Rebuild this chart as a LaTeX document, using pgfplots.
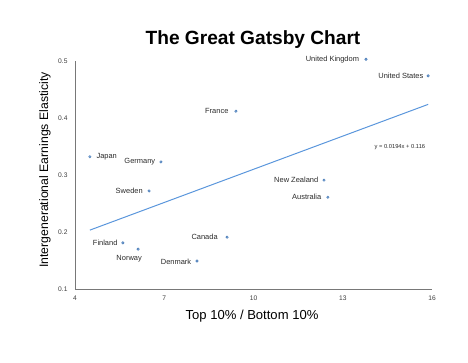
\documentclass[border=0pt]{standalone}
\usepackage{pgfplots}
\pgfplotsset{compat=1.18}
\usepackage{fontspec}
\setmainfont{Liberation Sans}
\definecolor{markblue}{RGB}{70,120,180}
\definecolor{markfill}{RGB}{140,180,225}
\definecolor{lineblue}{RGB}{90,150,220}
\definecolor{axisgray}{RGB}{120,120,120}
\definecolor{ticktext}{RGB}{60,60,60}
\begin{document}
\begin{tikzpicture}[x=1bp,y=1bp]
\useasboundingbox (0,0) rectangle (468,362);
\node[font=\bfseries\fontsize{19.2}{22}\selectfont] at (253,322) {The Great Gatsby Chart};
\node[rotate=90,font=\fontsize{12.3}{14}\selectfont] at (45,192) {Intergenerational Earnings Elasticity};
\node[font=\fontsize{13.1}{15}\selectfont] at (252,46) {Top 10\% / Bottom 10\%};
\begin{axis}[
  at={(75bp,73bp)}, anchor=south west,
  scale only axis, width=357bp, height=228bp,
  xmin=4, xmax=16, ymin=0.1, ymax=0.5,
  axis x line=bottom, axis y line=left,
  axis line style={-, axisgray, line width=0.8pt},
  xtick={4,7,10,13,16}, ytick={0.1,0.2,0.3,0.4,0.5},
  major tick length=0pt,
  tick label style={font=\fontsize{6.7}{7}\selectfont, text=ticktext},
  /pgf/number format/assume math mode=true,
  yticklabel style={/pgf/number format/fixed, /pgf/number format/precision=1, xshift=-4bp},
  xticklabel style={yshift=-3bp},
  clip=false,
]
\addplot[lineblue, line width=1pt] coordinates {(4.5,0.2033) (15.87,0.4239)};
\addplot[only marks, mark=*, mark size=1.25pt, mark options={draw=markblue, fill=markfill, line width=0.5pt}] coordinates {
(13.78,0.503) (15.87,0.474) (9.41,0.412) (4.50,0.332) (6.89,0.323) (6.49,0.272)
(12.37,0.291) (12.50,0.261) (9.11,0.191) (5.61,0.181) (6.12,0.170) (8.10,0.149)};
\begin{scope}[every node/.style={font=\fontsize{7.5}{9}\selectfont, inner sep=0.5pt, text=ticktext!70!black}]
\node[anchor=east] at (axis cs:13.57,0.503) {United Kingdom};
\node[anchor=east] at (axis cs:15.73,0.474) {United States};
\node[anchor=east] at (axis cs:9.18,0.412) {France};
\node[anchor=west] at (axis cs:4.70,0.332) {Japan};
\node[anchor=east] at (axis cs:6.72,0.323) {Germany};
\node[anchor=east] at (axis cs:6.30,0.272) {Sweden};
\node[anchor=east] at (axis cs:12.20,0.291) {New Zealand};
\node[anchor=east] at (axis cs:12.30,0.261) {Australia};
\node[anchor=east] at (axis cs:8.82,0.191) {Canada};
\node[anchor=east] at (axis cs:5.45,0.181) {Finland};
\node at (axis cs:5.82,0.154) {Norway};
\node[anchor=east] at (axis cs:7.93,0.147) {Denmark};
\node[font=\fontsize{5.8}{7}\selectfont] at (axis cs:14.92,0.349) {y = 0.0194x + 0.116};
\end{scope}
\end{axis}
\end{tikzpicture}
\end{document}
